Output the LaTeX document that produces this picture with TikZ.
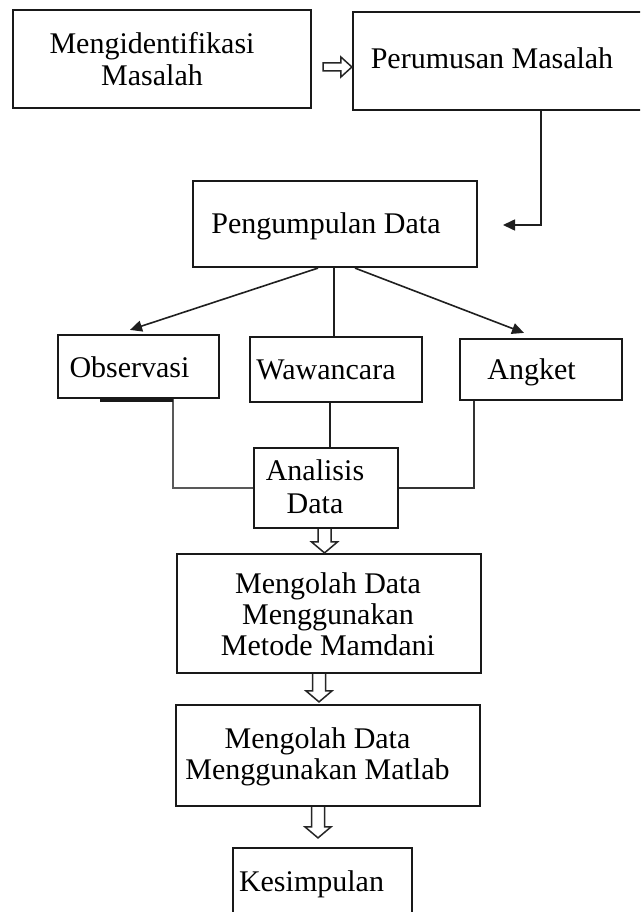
\documentclass[tikz,border=0pt]{standalone}
\usepackage{fontspec}
\setmainfont{Liberation Serif}
\usetikzlibrary{arrows.meta,calc}
\tikzset{
  box/.style={draw=black!90, line width=2.2pt, inner sep=0pt, rectangle},
  txt/.style={inner sep=0pt, anchor=base, align=center, font=\fontsize{30}{31}\selectfont},
  conn/.style={draw=black!88, line width=1.6pt},
  arr/.style={conn, -{Triangle[length=12pt,width=11pt]}},
  hollow/.style={draw=black!85, line width=1.5pt, line join=miter}
}
\newcommand{\hollowdown}[2]{%
  \draw[hollow] let \p1=(#1), \p2=(#2) in
    (\x1-6.5pt,\y1) -- (\x1-6.5pt,\y2+11pt) -- (\x1-13pt,\y2+11pt) -- (\x1,\y2)
    -- (\x1+13pt,\y2+11pt) -- (\x1+6.5pt,\y2+11pt) -- (\x1+6.5pt,\y1);}
\newcommand{\hollowright}[2]{%
  \draw[hollow] let \p1=(#1), \p2=(#2) in
    (\x1,\y1-4pt) -- (\x2-11pt,\y1-4pt) -- (\x2-11pt,\y1-10pt) -- (\x2,\y1)
    -- (\x2-11pt,\y1+10pt) -- (\x2-11pt,\y1+4pt) -- (\x1,\y1+4pt) -- cycle;}
\begin{document}
\begin{tikzpicture}[x=1pt,y=-1pt]
\useasboundingbox (0,0) rectangle (640,912);
\clip (0,0) rectangle (640,912);
\fill[white] (0,0) rectangle (640,912);

% boxes
\node[box, minimum width=298pt, minimum height=98pt] (b1) at (162,59) {};
\node[box, minimum width=309pt, minimum height=98pt] (b2) at (507.5,61) {};
\node[box, minimum width=284pt, minimum height=86pt] (b3) at (335,224) {};
\node[box, minimum width=161pt, minimum height=63pt] (ob) at (138.5,366.5) {};
\node[box, minimum width=172pt, minimum height=65pt] (wa) at (336,369.5) {};
\node[box, minimum width=162pt, minimum height=61pt] (ak) at (541,369.5) {};
\node[box, minimum width=144pt, minimum height=80pt] (an) at (326,488) {};
\node[box, minimum width=304pt, minimum height=119pt] (mm) at (329,613.5) {};
\node[box, minimum width=304pt, minimum height=101pt] (ml) at (328,755.5) {};
\node[box, minimum width=179pt, minimum height=87pt] (ks) at (322.5,891.5) {};

% texts (anchor=base is the baseline of the last line)
\node[txt, font=\fontsize{30}{32}\selectfont] (t1) at (152,86) {Mengidentifikasi\\Masalah};
\node[txt] (t2) at (492,69) {Perumusan Masalah};
\node[txt] (t3) at (326,233) {Pengumpulan Data};
\node[txt] (tob) at (129.5,377) {Observasi};
\node[txt] (twa) at (326,379) {Wawancara};
\node[txt] (tak) at (531.5,379) {Angket};
\node[txt, font=\fontsize{30}{33}\selectfont] (tan) at (315,513) {Analisis\\Data};
\node[txt] (tmm) at (328,655) {Mengolah Data\\Menggunakan\\Metode Mamdani};
\node[txt] (tml) at (317.5,779) {Mengolah Data\\Menggunakan Matlab};
\node[txt] (tks) at (311.5,891) {Kesimpulan};

% connectors
\hollowright{$(b1.east)+(11,8)$}{b2.west}
\coordinate (c1) at (503,225);
\draw[arr] ($(b2.south)+(33.5,0)$) |- (c1);
\draw[arr] ($(b3.south)+(-17,0)$) -- ($(ob.north)+(-8.5,-4)$);
\draw[conn] ($(b3.south)+(-1,0)$) coordinate (pw) -- (pw |- wa.north);
\draw[arr] ($(b3.south)+(20,0)$) -- ($(ak.north)+(-17,-5)$);
\draw[conn, draw=black!65] ($(ob.south)+(34.5,0)$) |- (an.west);
\draw[line width=3pt, draw=black!90] ($(ob.south)+(-38.5,1)$) -- ($(ob.south)+(34.5,1)$);
\draw[conn] ($(wa.south)+(-6,0)$) coordinate (pa) -- (pa |- an.north);
\draw[conn, draw=black!80] ($(ak.south)+(-67,0)$) |- (an.east);
\hollowdown{$(an.south)+(-1.5,0)$}{mm.north}
\hollowdown{$(mm.south)+(-10,0)$}{$(ml.north)+(0,-2)$}
\hollowdown{$(ml.south)+(-10,0)$}{$(ks.north)+(0,-9)$}
\end{tikzpicture}
\end{document}
